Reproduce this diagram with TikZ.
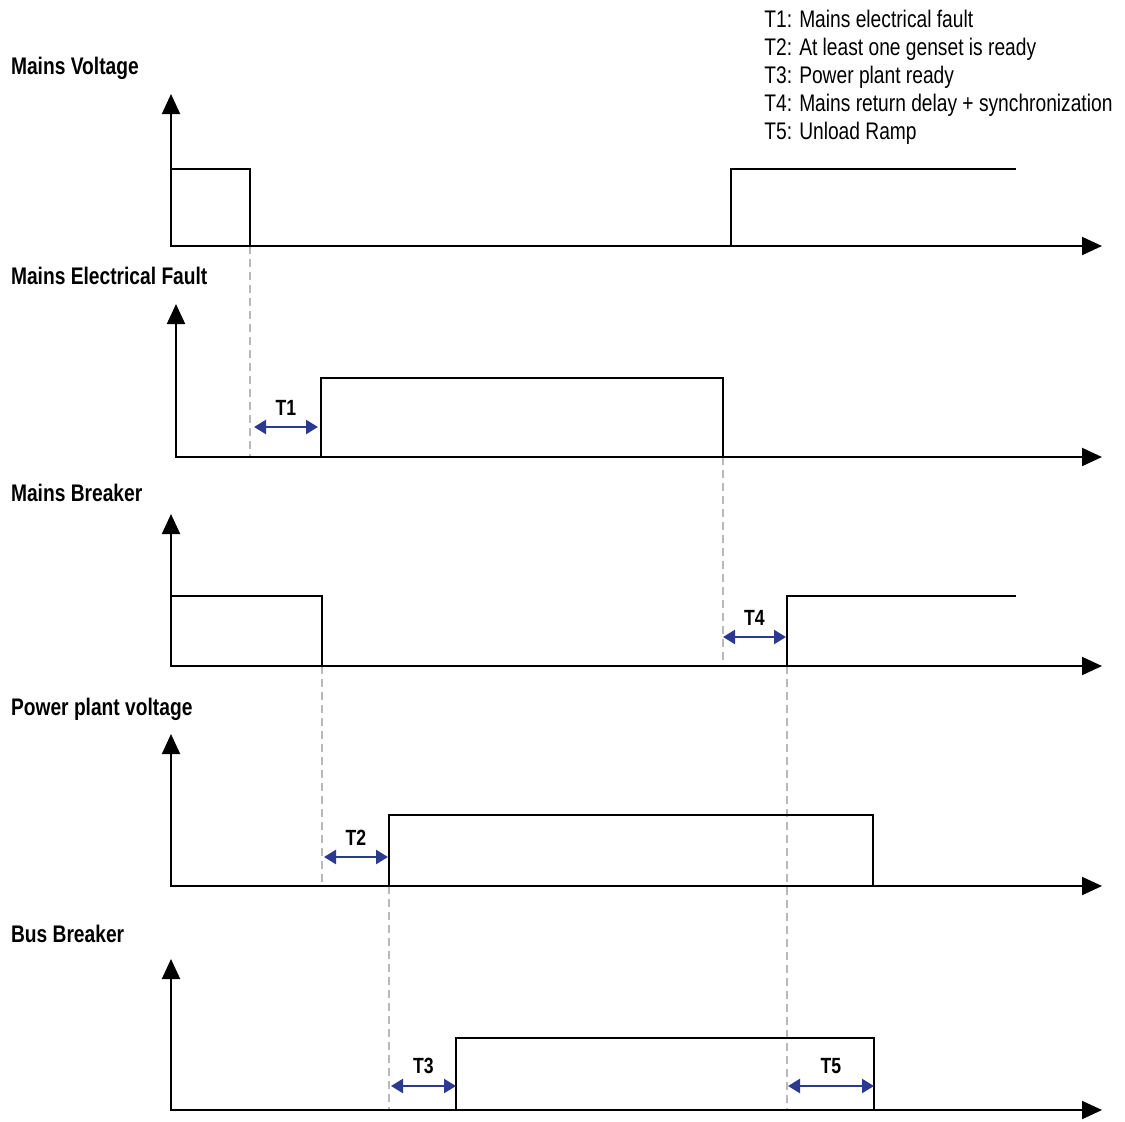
\documentclass[tikz,border=0pt]{standalone}
\usepackage{fontspec}
\setmainfont[FakeStretch=0.8]{Liberation Sans}
\usetikzlibrary{arrows.meta}
\definecolor{spanblue}{RGB}{43,57,144}
\tikzset{
  axis/.style={line width=1pt,-{Triangle[length=10pt,width=9pt]}},
  signal/.style={line width=1pt},
  guide/.style={gray!55,line width=0.8pt,dash pattern=on 4pt off 2.5pt},
  tspan/.style={spanblue,line width=1.2pt,{Triangle[length=6pt,width=7pt]}-{Triangle[length=6pt,width=7pt]}},
  tlabel/.style={font=\fontsize{11}{12}\selectfont\bfseries,above=2pt,black},
  title/.style={font=\fontsize{12}{13}\selectfont\bfseries,anchor=west}
}
\begin{document}
\begin{tikzpicture}[x=0.5pt,y=-0.5pt]
\useasboundingbox (0,0) rectangle (1125,1121);
% --- legend ---
\node[anchor=north west,align=left,inner sep=0pt,font=\fontsize{12}{14}\selectfont] (legend) at (764,10)
  {T1: Mains electrical fault\\ T2: At least one genset is ready\\ T3: Power plant ready\\
   T4: Mains return delay + synchronization\\ T5: Unload Ramp};
% --- panel titles ---
\node[title] (tMainsV) at (4,68) {Mains Voltage};
\node[title] (tFault) at (4,276) {Mains Electrical Fault};
\node[title] (tMainsB) at (4,493) {Mains Breaker};
\node[title] (tPlantV) at (4,709) {Power plant voltage};
\node[title] (tBusB) at (4,934) {Bus Breaker};
% --- guide lines between the panels ---
\draw[guide] (250,246) -- (250,457);
\draw[guide] (723,457) -- (723,666);
\draw[guide] (322,666) -- (322,886);
\draw[guide] (787,666) -- (787,1110);
\draw[guide] (389,886) -- (389,1110);
% --- mains voltage ---
\draw[axis] (171,247) -- (171,94);
\draw[axis] (171,246) -- (1102,246);
\draw[signal] (171,169) -- (250,169) -- (250,246);
\draw[signal] (731,246) -- (731,169) -- (1016,169);
% --- mains electrical fault ---
\draw[axis] (176,458) -- (176,304);
\draw[axis] (176,457) -- (1102,457);
\draw[signal] (321,457) -- (321,378) -- (723,378) -- (723,457);
% --- mains breaker ---
\draw[axis] (171,667) -- (171,514);
\draw[axis] (171,666) -- (1102,666);
\draw[signal] (171,596) -- (322,596) -- (322,666);
\draw[signal] (787,666) -- (787,596) -- (1016,596);
% --- power plant voltage ---
\draw[axis] (171,887) -- (171,734);
\draw[axis] (171,886) -- (1102,886);
\draw[signal] (389,886) -- (389,815) -- (873,815) -- (873,886);
% --- bus breaker ---
\draw[axis] (171,1111) -- (171,959);
\draw[axis] (171,1110) -- (1102,1110);
\draw[signal] (456,1110) -- (456,1038) -- (874,1038) -- (874,1110);
% --- delays ---
\coordinate (t1a) at (254,427); \coordinate (t1b) at (318,427);
\coordinate (t4a) at (723,637); \coordinate (t4b) at (786,637);
\coordinate (t2a) at (324,857); \coordinate (t2b) at (388,857);
\coordinate (t3a) at (391,1086); \coordinate (t3b) at (456,1086);
\coordinate (t5a) at (788,1086); \coordinate (t5b) at (874,1086);
\draw[tspan] (t1a) -- node[tlabel] {T1} (t1b);
\draw[tspan] (t4a) -- node[tlabel] {T4} (t4b);
\draw[tspan] (t2a) -- node[tlabel] {T2} (t2b);
\draw[tspan] (t3a) -- node[tlabel] {T3} (t3b);
\draw[tspan] (t5a) -- node[tlabel] {T5} (t5b);
\end{tikzpicture}
\end{document}
